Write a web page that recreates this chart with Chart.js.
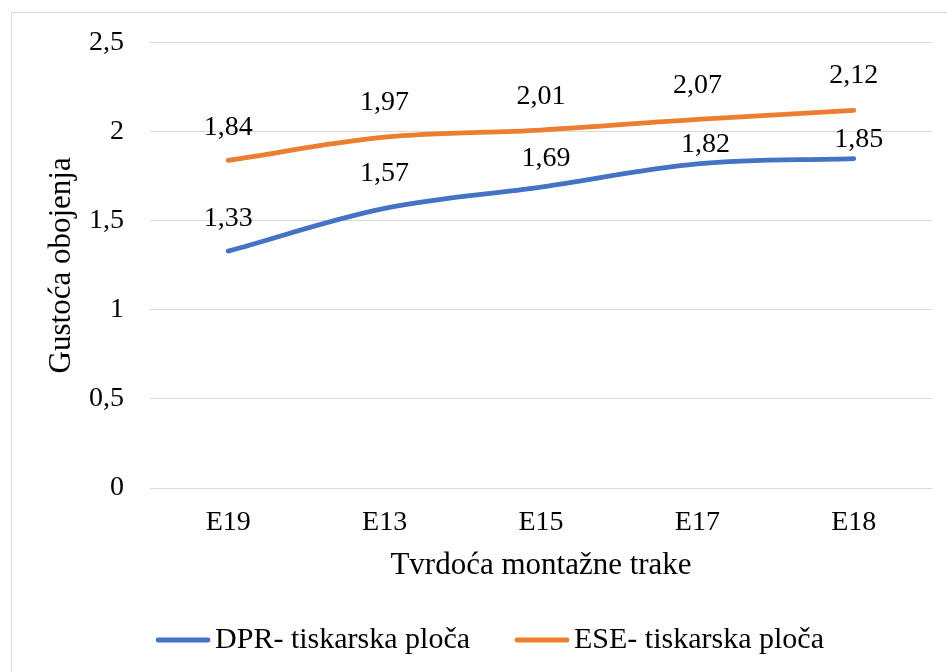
<!DOCTYPE html>
<html>
<head>
<meta charset="utf-8">
<script src="https://cdn.jsdelivr.net/npm/chart.js@4.4.1/dist/chart.umd.min.js"></script>
<style>
  html, body { margin: 0; padding: 0; background: #fff; }
  #wrap { position: relative; width: 947px; height: 672px; }
  canvas { display: block; }
</style>
</head>
<body>
<div id="wrap"><canvas id="c" width="947" height="672"></canvas></div>
<script>
// Data
const categories = ['E19', 'E13', 'E15', 'E17', 'E18'];
const dprValues = [1.33, 1.57, 1.69, 1.82, 1.85];
const eseValues = [1.84, 1.97, 2.01, 2.07, 2.12];
const seriesNames = ['DPR- tiskarska ploča', 'ESE- tiskarska ploča'];
const yTickLabels = ['0', '0,5', '1', '1,5', '2', '2,5'];
const xTitle = 'Tvrdoća montažne trake';
const yTitle = 'Gustoća obojenja';

// Styling
const SERIF = '"Liberation Serif", "Times New Roman", serif';
const BLUE = '#4472C4';
const ORANGE = '#ED7D31';
const GRID = '#d9d9d9';
const LINE_W = 4.8;

// Value label placement relative to each point (dx, dy), per series
const labelShift = [
  [[0, -33], [0, -35], [5, -28], [8, -19], [5, -19]],
  [[0, -33], [0, -35], [0, -33], [0, -34], [0, -35]]
];

const fmt = v => v.toFixed(2).replace('.', ',');

// Outer frame of the chart object
const framePlugin = {
  id: 'frame',
  beforeDraw(chart) {
    const ctx = chart.ctx;
    ctx.save();
    ctx.fillStyle = '#fff';
    ctx.fillRect(0, 0, chart.width, chart.height);
    ctx.strokeStyle = GRID;
    ctx.lineWidth = 1;
    ctx.beginPath();
    ctx.moveTo(11.5, chart.height);
    ctx.lineTo(11.5, 12.5);
    ctx.lineTo(chart.width, 12.5);
    ctx.stroke();
    ctx.restore();
  }
};

// Value labels above the line points
const valueLabels = {
  id: 'valueLabels',
  afterDatasetsDraw(chart) {
    const ctx = chart.ctx;
    ctx.save();
    ctx.font = '28px ' + SERIF;
    ctx.fillStyle = '#000';
    ctx.textAlign = 'center';
    ctx.textBaseline = 'middle';
    chart.data.datasets.forEach((ds, di) => {
      const meta = chart.getDatasetMeta(di);
      meta.data.forEach((el, i) => {
        const s = labelShift[di][i];
        ctx.fillText(fmt(ds.data[i]), el.x + s[0], el.y + s[1]);
      });
    });
    ctx.restore();
  }
};

// Bottom legend: line sample followed closely by the series name
const lineLegend = {
  id: 'lineLegend',
  afterDraw(chart) {
    const ctx = chart.ctx;
    const y = 640, sample = 54, gapText = 5, gapItem = 45, centre = 490;
    ctx.save();
    ctx.font = '30px ' + SERIF;
    const items = chart.data.datasets.map(ds => ({
      text: ds.label, color: ds.borderColor, w: ctx.measureText(ds.label).width
    }));
    const total = items.reduce((a, it) => a + sample + gapText + it.w, 0) + gapItem * (items.length - 1);
    let x = centre - total / 2;
    items.forEach(it => {
      ctx.strokeStyle = it.color;
      ctx.lineWidth = LINE_W;
      ctx.lineCap = 'round';
      ctx.beginPath();
      ctx.moveTo(x + 2, y);
      ctx.lineTo(x + sample - 2, y);
      ctx.stroke();
      ctx.fillStyle = '#000';
      ctx.textAlign = 'left';
      ctx.textBaseline = 'middle';
      ctx.fillText(it.text, x + sample + gapText, y);
      x += sample + gapText + it.w + gapItem;
    });
    ctx.restore();
  }
};

new Chart(document.getElementById('c'), {
  type: 'line',
  data: {
    labels: categories,
    datasets: [
      {
        label: seriesNames[0], data: dprValues,
        borderColor: BLUE, backgroundColor: BLUE,
        borderWidth: LINE_W, tension: 0.35, pointRadius: 0,
        borderCapStyle: 'round', borderJoinStyle: 'round', fill: false
      },
      {
        label: seriesNames[1], data: eseValues,
        borderColor: ORANGE, backgroundColor: ORANGE,
        borderWidth: LINE_W, tension: 0.35, pointRadius: 0,
        borderCapStyle: 'round', borderJoinStyle: 'round', fill: false
      }
    ]
  },
  options: {
    responsive: false,
    animation: false,
    devicePixelRatio: 1,
    layout: { padding: { left: 43, right: 15, top: 42, bottom: 88 } },
    plugins: {
      legend: { display: false },
      tooltip: { enabled: false },
      title: { display: false }
    },
    scales: {
      x: {
        type: 'category',
        offset: true,
        grid: { display: false, drawTicks: false },
        border: { display: false },
        ticks: { font: { family: SERIF, size: 28 }, color: '#000', padding: 18, maxRotation: 0 },
        title: { display: true, text: xTitle, font: { family: SERIF, size: 31 }, color: '#000', padding: 0 },
        afterFit(scale) { scale.height = 96; }
      },
      y: {
        min: 0, max: 2.5,
        grid: { color: GRID, lineWidth: 1, drawTicks: false },
        border: { display: false },
        ticks: {
          stepSize: 0.5,
          font: { family: SERIF, size: 28 }, color: '#000', padding: 26,
          callback: (v, i) => yTickLabels[i]
        },
        title: { display: true, text: yTitle, font: { family: SERIF, size: 31 }, color: '#000', padding: 0 },
        afterFit(scale) { scale.width = 107; }
      }
    }
  },
  plugins: [framePlugin, valueLabels, lineLegend]
});
</script>
</body>
</html>
